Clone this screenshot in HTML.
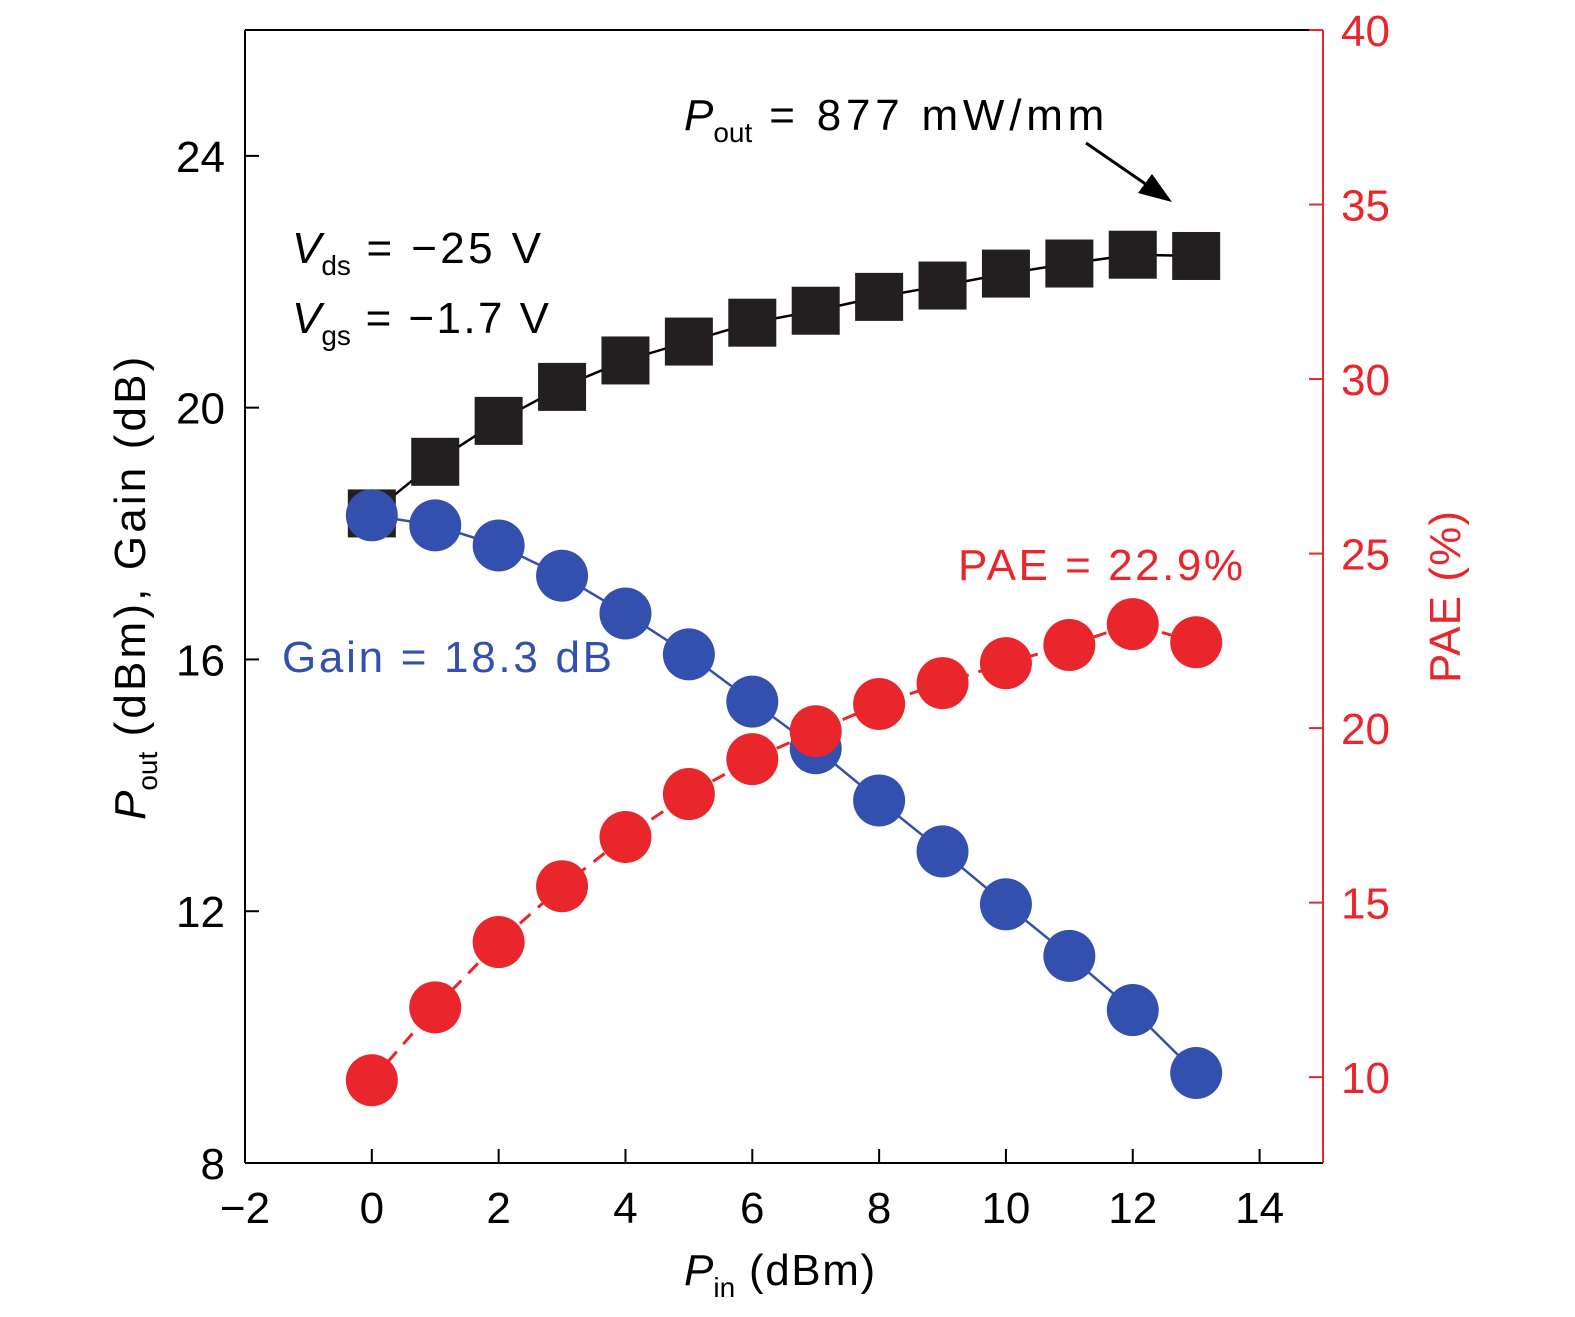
<!DOCTYPE html>
<html><head><meta charset="utf-8"><style>
body{margin:0;background:#fff}
svg text{font-family:"Liberation Sans",sans-serif}
</style></head><body>
<svg id="c" width="1575" height="1317" style="position:absolute;left:0;top:0" xmlns="http://www.w3.org/2000/svg"></svg>
<script>
const xVals=[0,1,2,3,4,5,6,7,8,9,10,11,12,13];
const poutVals=[18.32,19.14,19.79,20.33,20.75,21.05,21.35,21.54,21.76,21.94,22.13,22.29,22.43,22.41];
const gainVals=[18.29,18.13,17.81,17.33,16.73,16.08,15.33,14.59,13.76,12.95,12.11,11.29,10.43,9.43];
const paeVals=[9.91,12.0,13.87,15.47,16.88,18.11,19.11,19.91,20.69,21.29,21.86,22.38,22.98,22.46];
const xTicks=[-2,0,2,4,6,8,10,12,14];
const yLTicks=[8,12,16,20,24];
const yRTicks=[10,15,20,25,30,35,40];
const NS="http://www.w3.org/2000/svg";
const svg=document.getElementById('c');
const L=245,R=1323,T=30,B=1163;
const X=v=>L+(v+2)/17*(R-L);
const YL=v=>B-(v-8)/18*(B-T);
const YR=v=>B-(v-7.54)/(40-7.54)*(B-T);
function el(t,a,p){const e=document.createElementNS(NS,t);for(const k in a)e.setAttribute(k,a[k]);(p||svg).appendChild(e);return e;}
const RED="#e8262b",BLUE="#3350ae";
let e=el('line',{x1:L,y1:T,x2:L,y2:B,stroke:'#000','stroke-width':2});

e=el('line',{x1:L,y1:B,x2:R,y2:B,stroke:'#000','stroke-width':2});

e=el('line',{x1:L,y1:T,x2:R,y2:T,stroke:'#000','stroke-width':2});

e=el('line',{x1:R,y1:T,x2:R,y2:B,stroke:RED,'stroke-width':2});

xTicks.forEach(v=>{el('line',{x1:X(v),y1:B,x2:X(v),y2:B-14,stroke:'#000','stroke-width':2});
 const t=el('text',{x:X(v),y:B+60,'font-size':44,'text-anchor':'middle'});t.textContent=v<0?'\u2212'+(-v):v;
 });
yLTicks.forEach(v=>{el('line',{x1:L,y1:YL(v),x2:L+14,y2:YL(v),stroke:'#000','stroke-width':2});
 const t=el('text',{x:L-20,y:YL(v)+16,'font-size':44,'text-anchor':'end'});t.textContent=v;
 });
yRTicks.forEach(v=>{el('line',{x1:R,y1:YR(v),x2:R-14,y2:YR(v),stroke:RED,'stroke-width':2});
 const t=el('text',{x:R+18,y:YR(v)+16,'font-size':44,fill:RED});t.textContent=v;
 });
const pl=(vals,Y)=>xVals.map((x,i)=>X(x)+','+Y(vals[i])).join(' ');
e=el('polyline',{points:pl(poutVals,YL),fill:'none',stroke:'#000','stroke-width':2.5});

e=el('polyline',{points:pl(gainVals,YL),fill:'none',stroke:BLUE,'stroke-width':2.5});

e=el('polyline',{points:pl(paeVals,YR),fill:'none',stroke:RED,'stroke-width':3,'stroke-dasharray':'14 10'});

xVals.forEach((x,i)=>{
 const s=el('rect',{x:X(x)-24,y:YL(poutVals[i])-24,width:48,height:48,fill:'#231f20'});
 
 const c=el('circle',{cx:X(x),cy:YL(gainVals[i]),r:26,fill:BLUE});
 
});
xVals.forEach((x,i)=>{
 const c=el('circle',{cx:X(x),cy:YR(paeVals[i]),r:26,fill:RED});
 
});
</script>
<svg width="1575" height="1317" style="position:absolute;left:0;top:0" xmlns="http://www.w3.org/2000/svg">
<g font-family="Liberation Sans, sans-serif">
<text x="684" y="1285" font-size="44"><tspan font-style="italic">P</tspan><tspan font-size="28" dy="12">in</tspan><tspan dy="-12" textLength="140"> (dBm)</tspan></text>
<text transform="translate(145,820) rotate(-90)" font-size="44"><tspan font-style="italic">P</tspan><tspan font-size="28" dy="12">out</tspan><tspan dy="-12" textLength="395"> (dBm), Gain (dB)</tspan></text>
<text transform="translate(1460,683) rotate(-90)" font-size="44" fill="#e8262b" textLength="172">PAE (%)</text>
<text x="684" y="130" font-size="44"><tspan font-style="italic">P</tspan><tspan font-size="28" dy="12">out</tspan><tspan dy="-12" textLength="352"> = 877 mW/mm</tspan></text>
<line x1="1086" y1="143" x2="1160" y2="194" stroke="#000" stroke-width="3"/>
<polygon points="1172,202 1138,193 1152,174" fill="#000"/>
<text x="292" y="263" font-size="44"><tspan font-style="italic">V</tspan><tspan font-size="28" dy="12">ds</tspan><tspan dy="-12" textLength="190"> = −25 V</tspan></text>
<text x="292" y="333" font-size="44"><tspan font-style="italic">V</tspan><tspan font-size="28" dy="12">gs</tspan><tspan dy="-12" textLength="198"> = −1.7 V</tspan></text>
<text x="282" y="672" font-size="44" fill="#3350ae" textLength="330">Gain = 18.3 dB</text>
<text x="958" y="580" font-size="44" fill="#e8262b" textLength="285">PAE = 22.9%</text>
</g></svg>
</body></html>
